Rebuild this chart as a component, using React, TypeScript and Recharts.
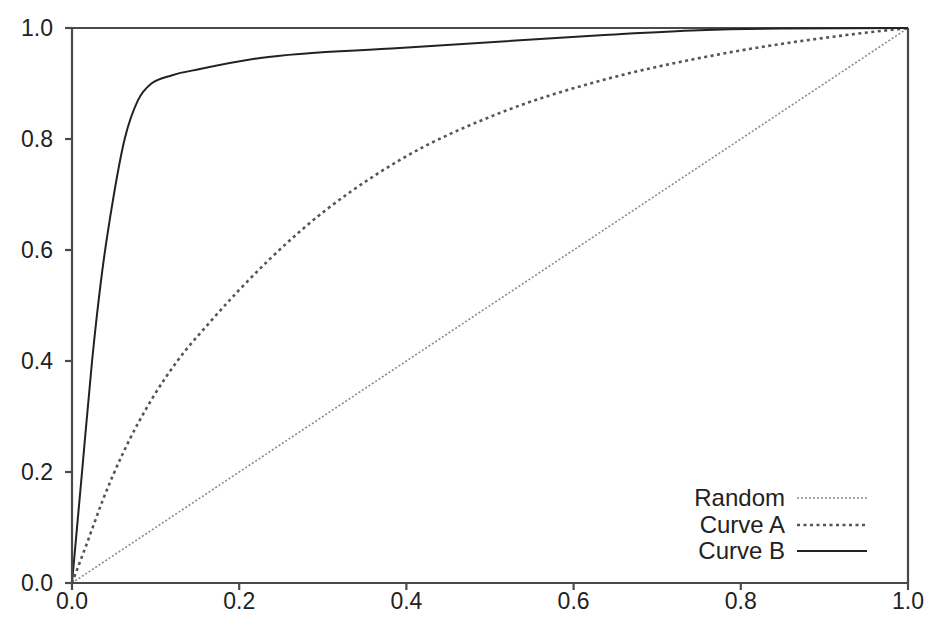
import { LineChart, Line, XAxis, YAxis, ReferenceLine } from 'recharts';

const TICKS = [0, 0.2, 0.4, 0.6, 0.8, 1.0];

const randomPts = [
  { x: 0, y: 0 },
  { x: 1, y: 1 },
];

const curveA = [
  { x: 0, y: 0 },
  { x: 0.018, y: 0.072 },
  { x: 0.037, y: 0.15 },
  { x: 0.061, y: 0.234 },
  { x: 0.097, y: 0.335 },
  { x: 0.126, y: 0.4 },
  { x: 0.165, y: 0.47 },
  { x: 0.2, y: 0.528 },
  { x: 0.273, y: 0.634 },
  { x: 0.392, y: 0.762 },
  { x: 0.512, y: 0.847 },
  { x: 0.632, y: 0.905 },
  { x: 0.772, y: 0.952 },
  { x: 0.93, y: 0.988 },
  { x: 1, y: 1 },
];

const curveB = [
  { x: 0, y: 0 },
  { x: 0.012, y: 0.2 },
  { x: 0.024, y: 0.4 },
  { x: 0.036, y: 0.56 },
  { x: 0.049, y: 0.69 },
  { x: 0.063, y: 0.8 },
  { x: 0.079, y: 0.87 },
  { x: 0.095, y: 0.9 },
  { x: 0.12, y: 0.915 },
  { x: 0.153, y: 0.926 },
  { x: 0.225, y: 0.946 },
  { x: 0.392, y: 0.964 },
  { x: 0.632, y: 0.987 },
  { x: 0.75, y: 0.996 },
  { x: 0.85, y: 0.999 },
  { x: 1, y: 1 },
];

const SERIES = [
  { name: 'Random', data: randomPts, stroke: '#8a8a8a', width: 1.6, dash: '2 2' },
  { name: 'Curve A', data: curveA, stroke: '#555', width: 2.6, dash: '3 3.5' },
  { name: 'Curve B', data: curveB, stroke: '#222', width: 2, dash: undefined },
];

const AXIS = '#4a4a4a';
const FONT = 'Liberation Sans, Arial, sans-serif';
const tickStyle = { fill: '#222', fontSize: 23, fontFamily: FONT };

// legend drawn as an overlay so it doesn't eat into the plot area
function LegendBox() {
  return (
    <div style={{ position: 'absolute', left: 568, top: 485, fontFamily: FONT, fontSize: 24, color: '#222' }}>
      {SERIES.map((s) => (
        <div key={s.name} style={{ display: 'flex', alignItems: 'center', height: 26.5 }}>
          <span style={{ width: 217, textAlign: 'right' }}>{s.name}</span>
          <svg width={82} height={10} style={{ marginLeft: 8 }}>
            <line x1={4} y1={5} x2={74} y2={5} stroke={s.stroke} strokeWidth={s.width} strokeDasharray={s.dash} />
          </svg>
        </div>
      ))}
    </div>
  );
}

export default function App() {
  return (
    <div style={{ position: 'relative', width: 928, height: 630 }}>
      <style>{'body { margin: 0; overflow: hidden; }'}</style>
      <LineChart width={928} height={630} margin={{ top: 28, right: 20, left: 0, bottom: 0 }}>
        <XAxis
          type="number"
          dataKey="x"
          domain={[0, 1]}
          ticks={TICKS}
          tickFormatter={(v: number) => v.toFixed(1)}
          stroke={AXIS}
          strokeWidth={2.2}
          tickSize={7}
          tickMargin={3}
          tick={tickStyle}
          height={47}
          interval={0}
          allowDuplicatedCategory={false}
        />
        <YAxis
          type="number"
          dataKey="y"
          domain={[0, 1]}
          ticks={TICKS}
          tickFormatter={(v: number) => v.toFixed(1)}
          stroke={AXIS}
          strokeWidth={2.2}
          tickSize={7}
          tickMargin={12}
          tick={tickStyle}
          width={72}
          interval={0}
        />
        <ReferenceLine y={1} stroke={AXIS} strokeWidth={2.2} />
        <ReferenceLine x={1} stroke={AXIS} strokeWidth={2.2} />
        {SERIES.map((s) => (
          <Line
            key={s.name}
            data={s.data}
            dataKey="y"
            name={s.name}
            type="monotone"
            stroke={s.stroke}
            strokeWidth={s.width}
            strokeDasharray={s.dash}
            dot={false}
            isAnimationActive={false}
          />
        ))}
      </LineChart>
      <LegendBox />
    </div>
  );
}
